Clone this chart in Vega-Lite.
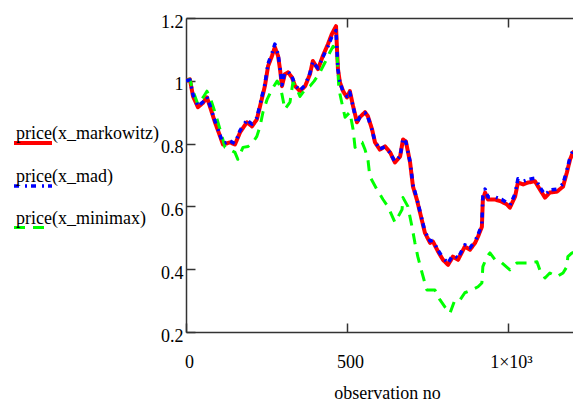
{
  "$schema": "https://vega.github.io/schema/vega-lite/v6.json",
  "width": 387,
  "height": 314,
  "autosize": {"type": "none"},
  "padding": {"left": 186, "top": 18, "right": 0, "bottom": 71},
  "background": "white",
  "config": {
    "view": {"stroke": null},
    "axis": {
      "labelFont": "Liberation Serif", "labelFontSize": 18, "labelColor": "#000",
      "titleFont": "Liberation Serif", "titleFontSize": 18, "titleFontWeight": "normal", "titleColor": "#000",
      "grid": false, "domainColor": "#333", "domainWidth": 1.5,
      "tickColor": "#333", "tickWidth": 1.5, "tickSize": -9, "labelFlush": false
    },
    "legend": {
      "orient": "none", "legendX": -174, "legendY": 104, "title": null,
      "symbolType": "stroke", "symbolSize": 1444, "labelOffset": -38,
      "labelFont": "Liberation Serif", "labelFontSize": 18, "labelColor": "#000",
      "labelBaseline": "bottom", "rowPadding": 14, "labelLimit": 0, "padding": 0,
      "labelExpr": "[datum.label, '']", "labelLineHeight": 8, "symbolOpacity": 1
    }
  },
  "datasets": {
    "d": [
      {"s":"price(x_markowitz)","o":0,"v":1.000},{"s":"price(x_markowitz)","o":12,"v":1.005},{"s":"price(x_markowitz)","o":22,"v":0.950},{"s":"price(x_markowitz)","o":37,"v":0.916},{"s":"price(x_markowitz)","o":53,"v":0.930},{"s":"price(x_markowitz)","o":65,"v":0.947},{"s":"price(x_markowitz)","o":75,"v":0.916},{"s":"price(x_markowitz)","o":90,"v":0.868},{"s":"price(x_markowitz)","o":106,"v":0.823},{"s":"price(x_markowitz)","o":115,"v":0.797},{"s":"price(x_markowitz)","o":137,"v":0.804},{"s":"price(x_markowitz)","o":152,"v":0.797},{"s":"price(x_markowitz)","o":168,"v":0.836},{"s":"price(x_markowitz)","o":189,"v":0.868},{"s":"price(x_markowitz)","o":205,"v":0.855},{"s":"price(x_markowitz)","o":220,"v":0.877},{"s":"price(x_markowitz)","o":230,"v":0.919},{"s":"price(x_markowitz)","o":245,"v":0.983},{"s":"price(x_markowitz)","o":255,"v":1.047},{"s":"price(x_markowitz)","o":267,"v":1.079},{"s":"price(x_markowitz)","o":276,"v":1.107},{"s":"price(x_markowitz)","o":286,"v":1.079},{"s":"price(x_markowitz)","o":292,"v":1.037},{"s":"price(x_markowitz)","o":298,"v":0.983},{"s":"price(x_markowitz)","o":307,"v":1.021},{"s":"price(x_markowitz)","o":317,"v":1.027},{"s":"price(x_markowitz)","o":329,"v":1.011},{"s":"price(x_markowitz)","o":339,"v":0.983},{"s":"price(x_markowitz)","o":354,"v":0.967},{"s":"price(x_markowitz)","o":370,"v":0.983},{"s":"price(x_markowitz)","o":385,"v":1.021},{"s":"price(x_markowitz)","o":394,"v":1.063},{"s":"price(x_markowitz)","o":410,"v":1.037},{"s":"price(x_markowitz)","o":425,"v":1.079},{"s":"price(x_markowitz)","o":441,"v":1.117},{"s":"price(x_markowitz)","o":453,"v":1.149},{"s":"price(x_markowitz)","o":466,"v":1.174},{"s":"price(x_markowitz)","o":469,"v":1.100},{"s":"price(x_markowitz)","o":472,"v":1.037},{"s":"price(x_markowitz)","o":478,"v":0.995},{"s":"price(x_markowitz)","o":488,"v":0.967},{"s":"price(x_markowitz)","o":500,"v":0.947},{"s":"price(x_markowitz)","o":509,"v":0.967},{"s":"price(x_markowitz)","o":519,"v":0.919},{"s":"price(x_markowitz)","o":531,"v":0.868},{"s":"price(x_markowitz)","o":540,"v":0.884},{"s":"price(x_markowitz)","o":556,"v":0.900},{"s":"price(x_markowitz)","o":565,"v":0.887},{"s":"price(x_markowitz)","o":578,"v":0.845},{"s":"price(x_markowitz)","o":587,"v":0.804},{"s":"price(x_markowitz)","o":602,"v":0.781},{"s":"price(x_markowitz)","o":618,"v":0.791},{"s":"price(x_markowitz)","o":634,"v":0.772},{"s":"price(x_markowitz)","o":649,"v":0.740},{"s":"price(x_markowitz)","o":665,"v":0.759},{"s":"price(x_markowitz)","o":674,"v":0.813},{"s":"price(x_markowitz)","o":683,"v":0.807},{"s":"price(x_markowitz)","o":696,"v":0.740},{"s":"price(x_markowitz)","o":705,"v":0.663},{"s":"price(x_markowitz)","o":717,"v":0.622},{"s":"price(x_markowitz)","o":727,"v":0.580},{"s":"price(x_markowitz)","o":742,"v":0.516},{"s":"price(x_markowitz)","o":758,"v":0.484},{"s":"price(x_markowitz)","o":767,"v":0.488},{"s":"price(x_markowitz)","o":783,"v":0.456},{"s":"price(x_markowitz)","o":798,"v":0.430},{"s":"price(x_markowitz)","o":814,"v":0.414},{"s":"price(x_markowitz)","o":829,"v":0.440},{"s":"price(x_markowitz)","o":845,"v":0.430},{"s":"price(x_markowitz)","o":866,"v":0.472},{"s":"price(x_markowitz)","o":882,"v":0.462},{"s":"price(x_markowitz)","o":898,"v":0.484},{"s":"price(x_markowitz)","o":907,"v":0.504},{"s":"price(x_markowitz)","o":919,"v":0.535},{"s":"price(x_markowitz)","o":922,"v":0.622},{"s":"price(x_markowitz)","o":929,"v":0.644},{"s":"price(x_markowitz)","o":938,"v":0.622},{"s":"price(x_markowitz)","o":960,"v":0.622},{"s":"price(x_markowitz)","o":981,"v":0.615},{"s":"price(x_markowitz)","o":997,"v":0.606},{"s":"price(x_markowitz)","o":1006,"v":0.596},{"s":"price(x_markowitz)","o":1022,"v":0.631},{"s":"price(x_markowitz)","o":1031,"v":0.676},{"s":"price(x_markowitz)","o":1047,"v":0.670},{"s":"price(x_markowitz)","o":1062,"v":0.676},{"s":"price(x_markowitz)","o":1084,"v":0.680},{"s":"price(x_markowitz)","o":1099,"v":0.654},{"s":"price(x_markowitz)","o":1115,"v":0.628},{"s":"price(x_markowitz)","o":1130,"v":0.644},{"s":"price(x_markowitz)","o":1152,"v":0.647},{"s":"price(x_markowitz)","o":1171,"v":0.663},{"s":"price(x_markowitz)","o":1183,"v":0.708},{"s":"price(x_markowitz)","o":1193,"v":0.750},{"s":"price(x_markowitz)","o":1202,"v":0.772},{"s":"price(x_markowitz)","o":1211,"v":0.780},
      {"s":"price(x_minimax)","o":0,"v":1.000},{"s":"price(x_minimax)","o":12,"v":1.005},{"s":"price(x_minimax)","o":22,"v":0.967},{"s":"price(x_minimax)","o":37,"v":0.925},{"s":"price(x_minimax)","o":53,"v":0.947},{"s":"price(x_minimax)","o":65,"v":0.967},{"s":"price(x_minimax)","o":75,"v":0.947},{"s":"price(x_minimax)","o":90,"v":0.900},{"s":"price(x_minimax)","o":112,"v":0.823},{"s":"price(x_minimax)","o":121,"v":0.788},{"s":"price(x_minimax)","o":137,"v":0.781},{"s":"price(x_minimax)","o":152,"v":0.772},{"s":"price(x_minimax)","o":161,"v":0.750},{"s":"price(x_minimax)","o":177,"v":0.788},{"s":"price(x_minimax)","o":193,"v":0.791},{"s":"price(x_minimax)","o":208,"v":0.804},{"s":"price(x_minimax)","o":220,"v":0.823},{"s":"price(x_minimax)","o":230,"v":0.855},{"s":"price(x_minimax)","o":239,"v":0.900},{"s":"price(x_minimax)","o":252,"v":0.941},{"s":"price(x_minimax)","o":267,"v":0.973},{"s":"price(x_minimax)","o":283,"v":0.999},{"s":"price(x_minimax)","o":292,"v":0.983},{"s":"price(x_minimax)","o":298,"v":0.957},{"s":"price(x_minimax)","o":307,"v":0.909},{"s":"price(x_minimax)","o":323,"v":0.932},{"s":"price(x_minimax)","o":332,"v":0.995},{"s":"price(x_minimax)","o":345,"v":0.973},{"s":"price(x_minimax)","o":354,"v":0.950},{"s":"price(x_minimax)","o":370,"v":0.973},{"s":"price(x_minimax)","o":385,"v":0.983},{"s":"price(x_minimax)","o":398,"v":0.999},{"s":"price(x_minimax)","o":416,"v":1.027},{"s":"price(x_minimax)","o":432,"v":1.059},{"s":"price(x_minimax)","o":447,"v":1.091},{"s":"price(x_minimax)","o":457,"v":1.110},{"s":"price(x_minimax)","o":469,"v":1.090},{"s":"price(x_minimax)","o":472,"v":1.027},{"s":"price(x_minimax)","o":475,"v":0.973},{"s":"price(x_minimax)","o":484,"v":0.930},{"s":"price(x_minimax)","o":494,"v":0.884},{"s":"price(x_minimax)","o":509,"v":0.900},{"s":"price(x_minimax)","o":519,"v":0.845},{"s":"price(x_minimax)","o":525,"v":0.788},{"s":"price(x_minimax)","o":540,"v":0.804},{"s":"price(x_minimax)","o":547,"v":0.804},{"s":"price(x_minimax)","o":556,"v":0.781},{"s":"price(x_minimax)","o":565,"v":0.750},{"s":"price(x_minimax)","o":571,"v":0.695},{"s":"price(x_minimax)","o":593,"v":0.654},{"s":"price(x_minimax)","o":612,"v":0.622},{"s":"price(x_minimax)","o":627,"v":0.600},{"s":"price(x_minimax)","o":649,"v":0.549},{"s":"price(x_minimax)","o":671,"v":0.590},{"s":"price(x_minimax)","o":674,"v":0.628},{"s":"price(x_minimax)","o":689,"v":0.600},{"s":"price(x_minimax)","o":702,"v":0.535},{"s":"price(x_minimax)","o":711,"v":0.484},{"s":"price(x_minimax)","o":720,"v":0.440},{"s":"price(x_minimax)","o":733,"v":0.389},{"s":"price(x_minimax)","o":748,"v":0.334},{"s":"price(x_minimax)","o":773,"v":0.334},{"s":"price(x_minimax)","o":789,"v":0.302},{"s":"price(x_minimax)","o":804,"v":0.280},{"s":"price(x_minimax)","o":820,"v":0.260},{"s":"price(x_minimax)","o":835,"v":0.302},{"s":"price(x_minimax)","o":851,"v":0.302},{"s":"price(x_minimax)","o":866,"v":0.325},{"s":"price(x_minimax)","o":888,"v":0.334},{"s":"price(x_minimax)","o":907,"v":0.344},{"s":"price(x_minimax)","o":919,"v":0.356},{"s":"price(x_minimax)","o":922,"v":0.408},{"s":"price(x_minimax)","o":935,"v":0.440},{"s":"price(x_minimax)","o":944,"v":0.452},{"s":"price(x_minimax)","o":960,"v":0.430},{"s":"price(x_minimax)","o":981,"v":0.420},{"s":"price(x_minimax)","o":1006,"v":0.398},{"s":"price(x_minimax)","o":1028,"v":0.420},{"s":"price(x_minimax)","o":1047,"v":0.420},{"s":"price(x_minimax)","o":1068,"v":0.420},{"s":"price(x_minimax)","o":1090,"v":0.424},{"s":"price(x_minimax)","o":1099,"v":0.398},{"s":"price(x_minimax)","o":1115,"v":0.372},{"s":"price(x_minimax)","o":1130,"v":0.388},{"s":"price(x_minimax)","o":1152,"v":0.376},{"s":"price(x_minimax)","o":1171,"v":0.388},{"s":"price(x_minimax)","o":1183,"v":0.408},{"s":"price(x_minimax)","o":1186,"v":0.440},{"s":"price(x_minimax)","o":1199,"v":0.452},{"s":"price(x_minimax)","o":1211,"v":0.455},
      {"s":"price(x_mad)","o":0,"v":1.000},{"s":"price(x_mad)","o":12,"v":1.003},{"s":"price(x_mad)","o":22,"v":0.955},{"s":"price(x_mad)","o":37,"v":0.920},{"s":"price(x_mad)","o":53,"v":0.933},{"s":"price(x_mad)","o":65,"v":0.950},{"s":"price(x_mad)","o":75,"v":0.920},{"s":"price(x_mad)","o":90,"v":0.872},{"s":"price(x_mad)","o":106,"v":0.826},{"s":"price(x_mad)","o":115,"v":0.800},{"s":"price(x_mad)","o":137,"v":0.808},{"s":"price(x_mad)","o":152,"v":0.800},{"s":"price(x_mad)","o":168,"v":0.842},{"s":"price(x_mad)","o":189,"v":0.875},{"s":"price(x_mad)","o":205,"v":0.862},{"s":"price(x_mad)","o":220,"v":0.882},{"s":"price(x_mad)","o":230,"v":0.925},{"s":"price(x_mad)","o":245,"v":0.990},{"s":"price(x_mad)","o":255,"v":1.055},{"s":"price(x_mad)","o":267,"v":1.088},{"s":"price(x_mad)","o":276,"v":1.117},{"s":"price(x_mad)","o":286,"v":1.085},{"s":"price(x_mad)","o":292,"v":1.040},{"s":"price(x_mad)","o":298,"v":0.987},{"s":"price(x_mad)","o":307,"v":1.027},{"s":"price(x_mad)","o":317,"v":1.030},{"s":"price(x_mad)","o":329,"v":1.014},{"s":"price(x_mad)","o":339,"v":0.986},{"s":"price(x_mad)","o":354,"v":0.970},{"s":"price(x_mad)","o":370,"v":0.986},{"s":"price(x_mad)","o":385,"v":1.025},{"s":"price(x_mad)","o":394,"v":1.060},{"s":"price(x_mad)","o":410,"v":1.040},{"s":"price(x_mad)","o":425,"v":1.075},{"s":"price(x_mad)","o":441,"v":1.110},{"s":"price(x_mad)","o":453,"v":1.140},{"s":"price(x_mad)","o":466,"v":1.160},{"s":"price(x_mad)","o":469,"v":1.095},{"s":"price(x_mad)","o":472,"v":1.035},{"s":"price(x_mad)","o":478,"v":0.995},{"s":"price(x_mad)","o":488,"v":0.965},{"s":"price(x_mad)","o":500,"v":0.950},{"s":"price(x_mad)","o":509,"v":0.963},{"s":"price(x_mad)","o":519,"v":0.917},{"s":"price(x_mad)","o":531,"v":0.866},{"s":"price(x_mad)","o":540,"v":0.885},{"s":"price(x_mad)","o":556,"v":0.898},{"s":"price(x_mad)","o":565,"v":0.885},{"s":"price(x_mad)","o":578,"v":0.843},{"s":"price(x_mad)","o":587,"v":0.806},{"s":"price(x_mad)","o":602,"v":0.783},{"s":"price(x_mad)","o":618,"v":0.790},{"s":"price(x_mad)","o":634,"v":0.770},{"s":"price(x_mad)","o":649,"v":0.742},{"s":"price(x_mad)","o":665,"v":0.760},{"s":"price(x_mad)","o":674,"v":0.815},{"s":"price(x_mad)","o":683,"v":0.805},{"s":"price(x_mad)","o":696,"v":0.742},{"s":"price(x_mad)","o":705,"v":0.668},{"s":"price(x_mad)","o":717,"v":0.625},{"s":"price(x_mad)","o":727,"v":0.583},{"s":"price(x_mad)","o":742,"v":0.520},{"s":"price(x_mad)","o":758,"v":0.490},{"s":"price(x_mad)","o":767,"v":0.492},{"s":"price(x_mad)","o":783,"v":0.460},{"s":"price(x_mad)","o":798,"v":0.436},{"s":"price(x_mad)","o":814,"v":0.420},{"s":"price(x_mad)","o":829,"v":0.445},{"s":"price(x_mad)","o":845,"v":0.436},{"s":"price(x_mad)","o":866,"v":0.478},{"s":"price(x_mad)","o":882,"v":0.468},{"s":"price(x_mad)","o":898,"v":0.490},{"s":"price(x_mad)","o":907,"v":0.510},{"s":"price(x_mad)","o":919,"v":0.542},{"s":"price(x_mad)","o":922,"v":0.632},{"s":"price(x_mad)","o":929,"v":0.655},{"s":"price(x_mad)","o":938,"v":0.630},{"s":"price(x_mad)","o":960,"v":0.630},{"s":"price(x_mad)","o":981,"v":0.622},{"s":"price(x_mad)","o":997,"v":0.612},{"s":"price(x_mad)","o":1006,"v":0.603},{"s":"price(x_mad)","o":1022,"v":0.640},{"s":"price(x_mad)","o":1031,"v":0.688},{"s":"price(x_mad)","o":1047,"v":0.680},{"s":"price(x_mad)","o":1062,"v":0.686},{"s":"price(x_mad)","o":1084,"v":0.690},{"s":"price(x_mad)","o":1099,"v":0.662},{"s":"price(x_mad)","o":1115,"v":0.636},{"s":"price(x_mad)","o":1130,"v":0.652},{"s":"price(x_mad)","o":1152,"v":0.655},{"s":"price(x_mad)","o":1171,"v":0.672},{"s":"price(x_mad)","o":1183,"v":0.716},{"s":"price(x_mad)","o":1193,"v":0.757},{"s":"price(x_mad)","o":1202,"v":0.778},{"s":"price(x_mad)","o":1211,"v":0.785}
    ]
  },
  "layer": [
    {
      "data": {"name": "d"},
      "mark": {"type": "line", "clip": true, "strokeCap": "butt", "strokeJoin": "round"},
      "encoding": {
        "x": {"field": "o", "type": "quantitative",
          "scale": {"domain": [0, 1202], "nice": false, "zero": false},
          "axis": {"orient": "bottom", "values": [0, 500, 1000], "title": "observation no",
            "labelExpr": "datum.value == 1000 ? '1×10³' : datum.label",
            "labelPadding": 30, "labelOffset": 3, "titlePadding": 13, "titleX": 201}},
        "y": {"field": "v", "type": "quantitative",
          "scale": {"domain": [0.2, 1.2], "nice": false, "zero": false},
          "axis": {"orient": "left", "values": [0.2, 0.4, 0.6, 0.8, 1, 1.2], "format": "~g", "title": null,
            "labelPadding": 12, "labelOffset": 4}},
        "color": {"field": "s", "type": "nominal",
          "scale": {"domain": ["price(x_markowitz)", "price(x_mad)", "price(x_minimax)"], "range": ["#ff0000", "#0000ff", "#00ff00"]}},
        "strokeDash": {"field": "s", "type": "nominal",
          "scale": {"domain": ["price(x_markowitz)", "price(x_mad)", "price(x_minimax)"], "range": [[1, 0], [5, 6, 2, 4], [11, 8]]}},
        "strokeWidth": {"field": "s", "type": "nominal",
          "scale": {"domain": ["price(x_markowitz)", "price(x_mad)", "price(x_minimax)"], "range": [4, 3, 5]}}
      }
    },
    {
      "data": {"name": "d"},
      "mark": {"type": "line", "opacity": 0},
      "encoding": {
        "x": {"field": "o", "type": "quantitative",
          "axis": {"orient": "top", "values": [500, 1000], "labels": false, "title": null}},
        "y": {"field": "v", "type": "quantitative", "axis": null}
      }
    }
  ],
  "resolve": {"axis": {"x": "independent", "y": "independent"}}
}
